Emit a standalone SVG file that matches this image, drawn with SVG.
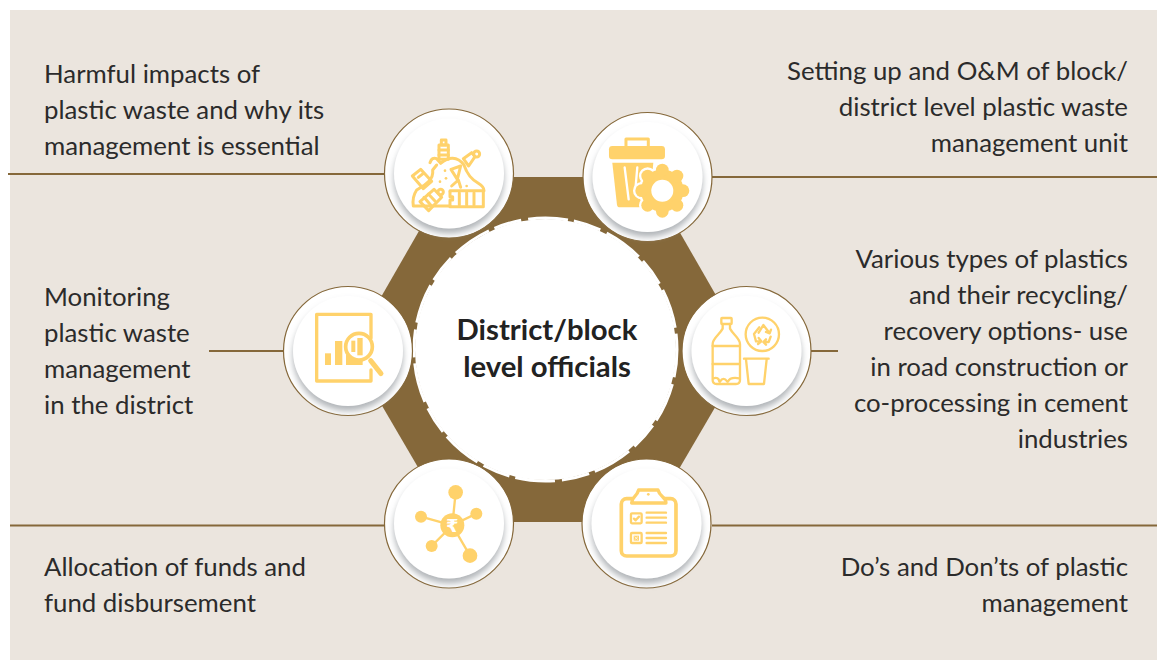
<svg xmlns="http://www.w3.org/2000/svg" width="1157" height="660" viewBox="0 0 1157 660">
<style>
text{font-family:"Lato","Open Sans","Liberation Sans",sans-serif;font-size:25.8px;fill:#2b2b2b}
.r{text-anchor:end}
.c{font-size:29.3px;font-weight:700;text-anchor:middle;fill:#222}
.ln{stroke:#85683a;stroke-width:2;fill:none}
.rim{fill:#fff;stroke:#85683a;stroke-width:1.2}
.in{fill:#fff;filter:url(#sh)}
.s{fill:none;stroke:#ffd26b;stroke-width:9;stroke-linecap:round;stroke-linejoin:round}
.t{stroke-width:7}
.f{fill:#ffd26b}
.w{fill:#fff}
</style>
<defs>
<filter id="sh" x="-20%" y="-20%" width="140%" height="140%"><feDropShadow dx="0" dy="5" stdDeviation="3" flood-color="#a8acb0" flood-opacity="0.9"/></filter>
<g id="disc"><circle class="rim" r="64.5"/><circle class="in" r="55"/></g>
<g id="gear"><circle r="64"/><circle cx="0" cy="-62" r="19"/><circle cx="44" cy="-44" r="19"/><circle cx="62" cy="0" r="19"/><circle cx="44" cy="44" r="19"/><circle cx="0" cy="62" r="19"/><circle cx="-44" cy="44" r="19"/><circle cx="-62" cy="0" r="19"/><circle cx="-44" cy="-44" r="19"/></g>
</defs>
<rect width="1157" height="660" fill="#fff"/>
<rect x="10" y="10" width="1147" height="650" fill="#ebe5de"/>
<g id="connectors">
<path class="ln" d="M8 174H385M712 177H1157M209 351H284M810 351H838M10 525.500H385M712 525.500H1157"/>
</g>
<g id="hub">
<path d="M450 177H648L748 351L648 522H450L350 351Z" fill="#85683a"/>
<circle cx="545.500" cy="349.500" r="130.500" fill="#fff"/>
<circle cx="545.500" cy="349.500" r="131.500" fill="none" stroke="#fff" stroke-width="3" stroke-dasharray="28 7 40 6"/>
<text class="c" x="547" y="340">District/block</text>
<text class="c" x="547" y="377">level officials</text>
</g>
<g id="node-harm">
<use href="#disc" x="449" y="173.500"/>
<g transform="translate(370 100) scale(.3333)">
<g class="s">
<rect x="207" y="135" width="28" height="43"/><rect x="214" y="120" width="14" height="15"/><path d="M207 150H235M207 165H235"/>
<path d="M180 188Q186 170 200 176L212 190C235 170 262 168 282 195C292 225 305 238 325 250C338 258 342 265 342 272"/>
<path d="M280 176L305 158L315 170L296 198Z"/><circle cx="320" cy="162" r="9"/>
<path d="M127 228L152 208L185 244L160 266Z"/><path d="M145 232L160 220"/>
<path d="M200 195L188 210C192 240 165 255 140 270C130 285 128 305 130 318H240"/>
<path d="M150 305L192 268L215 292L176 332Z"/><path d="M162 292L182 315M175 282L195 303"/><circle cx="212" cy="276" r="8"/>
<path d="M240 272H340V320H240V300H248V290H240Z"/><path d="M268 278V315M290 278V315M312 278V315"/>
<path d="M243 208L272 198L262 238Z"/>
<path d="M245 258L265 240L272 262"/>
</g>
<g class="f"><circle cx="225" cy="212" r="4"/><circle cx="228" cy="235" r="4"/><circle cx="210" cy="245" r="4"/><circle cx="240" cy="275" r="4"/><circle cx="290" cy="258" r="4"/></g>
</g>
</g>
<g id="node-unit">
<use href="#disc" x="647.500" y="177"/>
<g transform="translate(370 100) scale(.3333)">
<rect class="s" x="768" y="117" width="67" height="26"/>
<rect class="f" x="717" y="138" width="168" height="40" rx="10"/>
<path class="f" d="M727 188H850L838 322H750Q742 322 741 314Z"/>
<path d="M764 202L776 298M802 202L796 270" stroke="#fff" stroke-width="7" fill="none" stroke-linecap="round"/>
<use href="#gear" x="877" y="272" fill="#fff" stroke="#fff" stroke-width="14"/>
<use href="#gear" x="877" y="272" fill="#ffd26b"/>
<circle class="w" cx="877" cy="272" r="33"/>
</g>
</g>
<g id="node-monitor">
<use href="#disc" x="348" y="351"/>
<g transform="translate(270 270) scale(.3333)">
<path class="s" d="M303 205V133H140V333H303V300" style="stroke-width:10"/>
<rect class="f" x="165" y="250" width="18" height="35"/>
<rect class="f" x="195" y="213" width="22" height="72"/>
<rect class="f" x="228" y="255" width="50" height="30"/>
<circle cx="267" cy="230" r="40" fill="#fff" stroke="#ffd26b" stroke-width="11"/>
<rect class="f" x="244" y="212" width="12" height="34"/>
<rect class="f" x="262" y="204" width="16" height="52"/>
<path d="M302 272L333 311" fill="none" stroke="#ffd26b" stroke-width="15" stroke-linecap="round"/>
</g>
</g>
<g id="node-types">
<use href="#disc" x="746.500" y="351"/>
<g transform="translate(670 270) scale(.3333)">
<g class="s t">
<rect x="154" y="144" width="31" height="18" rx="2"/>
<path d="M158 162V176C148 195 128 205 128 222V330Q128 342 140 342H198Q210 342 210 330V222C210 205 190 195 180 176V162"/>
<path d="M128 228H210M128 282H210"/>
<path d="M130 325Q146 320 148 335M150 335Q160 318 172 335M174 335Q180 320 208 325"/>
<circle cx="277" cy="193" r="50"/>
<path d="M266 188L280 165L298 188M288 186L299 190L303 179"/>
<path d="M268 172L252 192L258 214H272M266 204L274 214L264 222"/>
<path d="M302 200L296 216L282 216M288 208L280 216L288 224"/>
<path d="M222 266H296M228 268L236 342H282L290 268"/>
</g>
</g>
</g>
<g id="node-funds">
<use href="#disc" x="449" y="523.500"/>
<g transform="translate(370 440) scale(.3333)">
<path d="M247 256L257 157M247 256L319 221M247 256L153 230M247 256L185 318M247 256L300 347" stroke="#ffd26b" stroke-width="7" fill="none"/>
<g class="f"><circle cx="247" cy="256" r="36"/><circle cx="257" cy="157" r="22"/><circle cx="319" cy="221" r="18"/><circle cx="153" cy="230" r="18"/><circle cx="185" cy="318" r="18"/><circle cx="300" cy="347" r="22"/></g>
<text x="247" y="275" text-anchor="middle" style="font-family:'DejaVu Sans','Noto Sans',sans-serif;font-size:54px;font-weight:700;fill:#fff">₹</text>
</g>
</g>
<g id="node-dos">
<use href="#disc" x="646.500" y="523.500"/>
<g transform="translate(370 440) scale(.3333)">
<rect class="s" x="754" y="176" width="164" height="172" rx="16" style="stroke-width:11"/>
<path d="M785 189C785 170 800 172 806 150H864C870 172 888 170 888 189Z" fill="#fff" stroke="#ffd26b" stroke-width="10" stroke-linejoin="round"/>
<circle class="f" cx="835" cy="163" r="4"/>
<g class="s t">
<rect x="783" y="220" width="32" height="30" rx="3"/><path d="M792 236L797 241L807 230"/>
<rect x="783" y="279" width="32" height="30" rx="3"/>
<path d="M830 218H888M830 233H888M830 248H888M830 279H888M830 294H888M830 309H888"/>
</g>
<rect class="f" x="791" y="287" width="16" height="15"/>
<path d="M794 290L804 299M804 290L794 299" stroke="#fff" stroke-width="2"/>
</g>
</g>
<g id="label-harm"><text x="44" y="83">Harmful impacts of</text><text x="44" y="119">plastic waste and why its</text><text x="44" y="155">management is essential</text></g>
<g id="label-unit"><text class="r" x="1128" y="80">Setting up and O&amp;M of block/</text><text class="r" x="1128" y="116">district level plastic waste</text><text class="r" x="1128" y="152">management unit</text></g>
<g id="label-monitor"><text x="44" y="306">Monitoring</text><text x="44" y="342">plastic waste</text><text x="44" y="378">management</text><text x="44" y="414">in the district</text></g>
<g id="label-types"><text class="r" x="1128" y="268">Various types of plastics</text><text class="r" x="1128" y="304">and their recycling/</text><text class="r" x="1128" y="340">recovery options- use</text><text class="r" x="1128" y="376">in road construction or</text><text class="r" x="1128" y="412">co-processing in cement</text><text class="r" x="1128" y="448">industries</text></g>
<g id="label-funds"><text x="44" y="576">Allocation of funds and</text><text x="44" y="612">fund disbursement</text></g>
<g id="label-dos"><text class="r" x="1128" y="576">Do’s and Don’ts of plastic</text><text class="r" x="1128" y="612">management</text></g>
</svg>
